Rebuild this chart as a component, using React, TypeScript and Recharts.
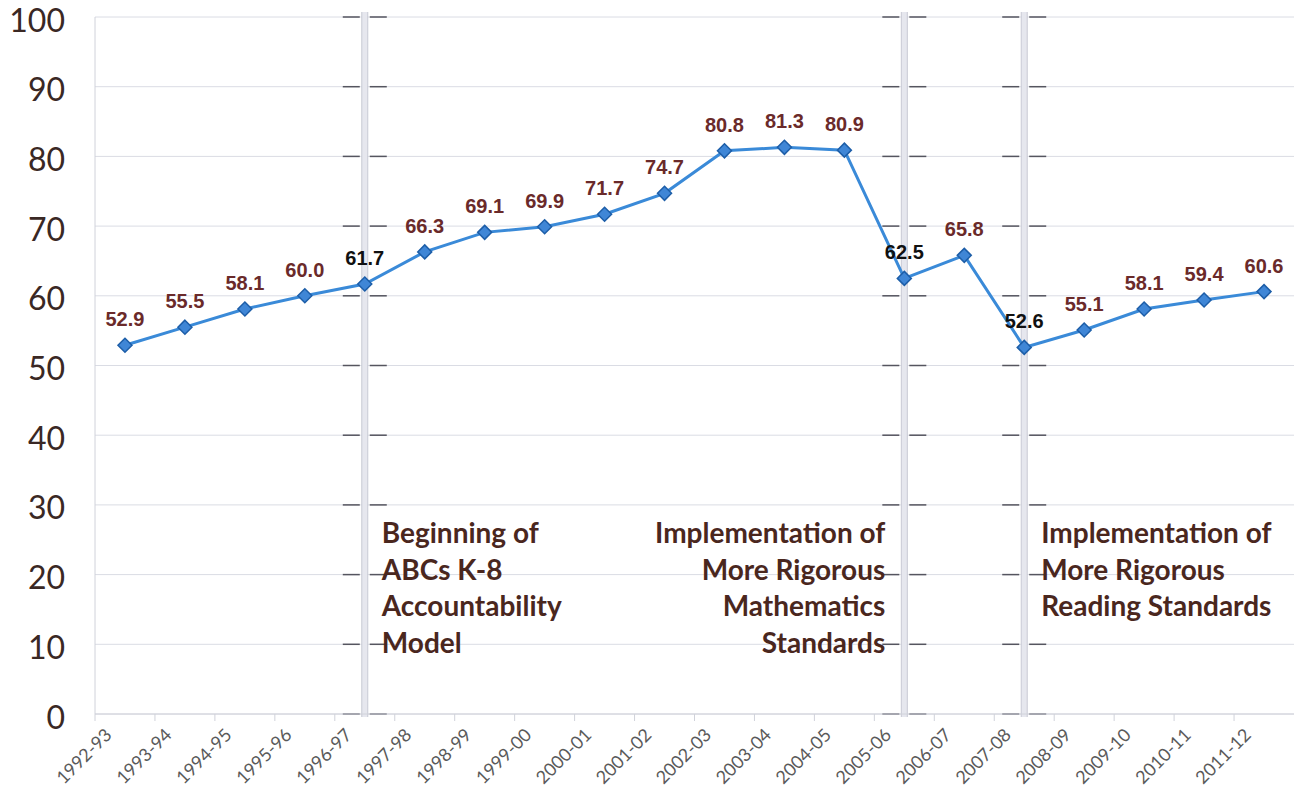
import React from 'react';
import { LineChart, Line, XAxis, YAxis, CartesianGrid, ReferenceLine, LabelList } from 'recharts';

const years = [
  '1992-93', '1993-94', '1994-95', '1995-96', '1996-97', '1997-98', '1998-99', '1999-00', '2000-01', '2001-02',
  '2002-03', '2003-04', '2004-05', '2005-06', '2006-07', '2007-08', '2008-09', '2009-10', '2010-11', '2011-12',
];
const scores = [
  52.9, 55.5, 58.1, 60.0, 61.7, 66.3, 69.1, 69.9, 71.7, 74.7,
  80.8, 81.3, 80.9, 62.5, 65.8, 52.6, 55.1, 58.1, 59.4, 60.6,
];
const yTicks = [0, 10, 20, 30, 40, 50, 60, 70, 80, 90, 100];
const milestoneYears = ['1996-97', '2005-06', '2007-08'];
const milestoneNotes = [
  ['Beginning of', 'ABCs K-8', 'Accountability', 'Model'],
  ['Implementation of', 'More Rigorous', 'Mathematics', 'Standards'],
  ['Implementation of', 'More Rigorous', 'Reading Standards'],
];
const milestoneSide = ['right', 'left', 'right'];
const noteTopValue = 24.5;

const data = years.map((year, i) => ({ year, score: scores[i] }));

const LINE_BLUE = '#3a8ad8';
const LABEL_RED = '#6a2a2a';
const NOTE_BROWN = '#4a271e';

const VLine = (props: any) => {
  const { x1, y1, x2, y2 } = props;
  const top = Math.min(y1, y2);
  const bottom = Math.max(y1, y2);
  const x = x1;
  const dashes = yTicks.map((t) => top + ((bottom - top) * (100 - t)) / 100);
  return (
    <g>
      <rect x={x - 3} y={top - 5} width={6} height={bottom - top + 8} fill="#e6e7ee" />
      <line x1={x - 3} x2={x - 3} y1={top - 5} y2={bottom + 3} stroke="#c8cad4" strokeWidth={1} />
      <line x1={x + 3} x2={x + 3} y1={top - 5} y2={bottom + 3} stroke="#c8cad4" strokeWidth={1} />
      {dashes.map((yy, i) => (
        <g key={i}>
          <line x1={x - 22} x2={x - 5} y1={yy} y2={yy} stroke="#55555f" strokeWidth={1.5} />
          <line x1={x + 5} x2={x + 22} y1={yy} y2={yy} stroke="#55555f" strokeWidth={1.5} />
        </g>
      ))}
    </g>
  );
};

const makeNote = (idx: number) => (props: any) => {
  const vb = props.viewBox || {};
  const x = vb.x;
  const top = vb.y;
  const h = vb.height;
  const baseY = top + (h * (100 - noteTopValue)) / 100;
  const right = milestoneSide[idx] === 'right';
  const tx = right ? x + 17 : x - 19;
  return (
    <text
      x={tx}
      y={baseY}
      textAnchor={right ? 'start' : 'end'}
      fontFamily="Lato, 'Open Sans', sans-serif"
      fontWeight={700}
      fontSize={28}
      fill={NOTE_BROWN}
    >
      {milestoneNotes[idx].map((line, i) => (
        <tspan key={i} x={tx} dy={i === 0 ? 0 : 36.5}>
          {line}
        </tspan>
      ))}
    </text>
  );
};

const Diamond = (props: any) => {
  const { cx, cy, index } = props;
  if (cx == null || cy == null) return <g key={`d-${index}`} />;
  const r = 7;
  return (
    <path
      key={`d-${index}`}
      d={`M${cx},${cy - r} L${cx + r},${cy} L${cx},${cy + r} L${cx - r},${cy} Z`}
      fill="#3f86d6"
      stroke="#1d5ea8"
      strokeWidth={1.5}
    />
  );
};

const ValueLabel = (props: any) => {
  const { x, y, value, index } = props;
  const dark = milestoneYears.includes(years[index]);
  return (
    <text
      x={x}
      y={y - 19}
      textAnchor="middle"
      fontFamily="'Liberation Sans', Arial, sans-serif"
      fontWeight={700}
      fontSize={20}
      fill={dark ? '#111111' : LABEL_RED}
    >
      {Number(value).toFixed(1)}
    </text>
  );
};

const XTick = (props: any) => {
  const { x, y, payload } = props;
  const half = payload && payload.offset ? payload.offset : 30;
  return (
    <g>
      <line x1={x - half} x2={x - half} y1={y - 8} y2={y - 1} stroke="#d0d2da" strokeWidth={1} />
      <g transform={`translate(${x - 12},${y + 14})`}>
        <text
          x={0}
          y={0}
          textAnchor="end"
          transform="rotate(-45)"
          fontFamily="Lato, 'Open Sans', sans-serif"
          fontSize={18}
          fill="#5a5a5a"
        >
          {payload.value}
        </text>
      </g>
    </g>
  );
};

const YTick = (props: any) => {
  const { x, y, payload } = props;
  return (
    <text
      x={x}
      y={y + 3}
      dy="0.36em"
      textAnchor="end"
      fontFamily="Lato, 'Open Sans', sans-serif"
      fontSize={32}
      fill="#3a2824"
    >
      {payload.value}
    </text>
  );
};

export default function App() {
  return (
    <div style={{ position: 'absolute', left: 0, top: 0, width: 1294, height: 799, background: '#ffffff' }}>
      <LineChart width={1294} height={799} data={data} margin={{ top: 17, right: 0, left: 0, bottom: 0 }}>
        <CartesianGrid horizontal vertical={false} stroke="#dadce4" strokeWidth={1} />
        <XAxis
          dataKey="year"
          scale="band"
          interval={0}
          height={85}
          axisLine={{ stroke: '#d0d2da' }}
          tickLine={false}
          tick={<XTick />}
        />
        <YAxis
          domain={[0, 100]}
          ticks={yTicks}
          interval={0}
          width={95}
          axisLine={{ stroke: '#d0d2da' }}
          tickLine={false}
          tickMargin={24}
          tick={<YTick />}
        />
        {milestoneYears.map((yr, i) => (
          <ReferenceLine key={yr} x={yr} shape={<VLine />} label={makeNote(i)} ifOverflow="visible" />
        ))}
        <Line
          type="linear"
          dataKey="score"
          stroke={LINE_BLUE}
          strokeWidth={3}
          dot={Diamond}
          activeDot={false}
          isAnimationActive={false}
        >
          <LabelList dataKey="score" content={ValueLabel} />
        </Line>
      </LineChart>
    </div>
  );
}
